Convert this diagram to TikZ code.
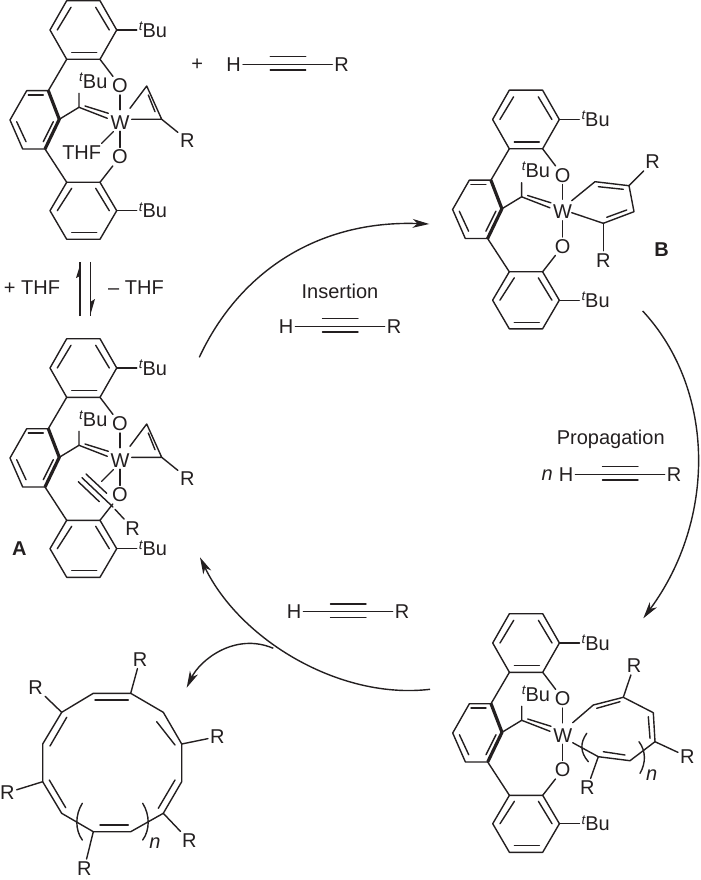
\documentclass[tikz,border=0pt]{standalone}
\usepackage{fontspec}
\setmainfont{Liberation Sans}
\usetikzlibrary{arrows.meta}
\definecolor{ink}{HTML}{231F20}
\newcommand{\tbutyl}{\raisebox{5pt}{\fontsize{10}{10}\selectfont\itshape t}Bu}
\tikzset{
  bond/.style={draw=ink,line width=1.05pt,line cap=round,line join=round},
  bold bond/.style={draw=ink,line width=2.4pt,line cap=butt,line join=round},
  thin arc/.style={draw=ink,line width=1.05pt,-{Stealth[length=12.5pt,width=6.6pt,inset=3.6pt]}},
  atom/.style={text=ink,font=\fontsize{15}{15}\selectfont,inner sep=1.4pt,text height=10.7pt,text depth=0pt,anchor=center},
  caption/.style={text=ink,font=\fontsize{15}{15}\selectfont,inner sep=0pt,anchor=center},
  tag/.style={text=ink,font=\fontsize{15}{15}\selectfont\bfseries,inner sep=0pt,anchor=center},
  mult/.style={text=ink,font=\fontsize{15}{15}\selectfont\itshape,inner sep=0pt,anchor=center},
}
% the biphenolate-alkylidene ligand around W; #1 = name prefix, (#2,#3) = W position
\newcommand{\ligand}[3]{%
\begin{scope}[shift={(#2,#3)}]
  \node[atom] (#1W) at (0,0) {W};
  \node[atom] (#1Ot) at (0,-36.3) {O};
  \node[atom] (#1Ob) at (0,34.7) {O};
  \node[atom] (#1Bt) at (33,-92) {\tbutyl};
  \node[atom] (#1Bb) at (33,88.7) {\tbutyl};
  \node[atom] (#1Bc) at (-26.7,-41) {\tbutyl};
  \coordinate (#1c) at (-41,-14.7);
  \coordinate (#1m3) at (-60.7,-2.7);
  \coordinate (#1t3) at (-3.3,-92);
  \coordinate (#1t4) at (-20,-62.7);
  \coordinate (#1b2) at (-20,60.3);
  \coordinate (#1b3) at (-3.3,88.7);
  % upper phenyl ring
  \draw[bond] (-53.3,-121.3) -- (-20,-121.3) -- (#1t3) -- (#1t4) -- (-53.3,-62.7) -- (-70,-92) -- cycle;
  \draw[bond] (-62.7,-92) -- (-49,-114.7);
  \draw[bond] (-24.3,-114.7) -- (-10.7,-92);
  \draw[bond] (-48.3,-69.3) -- (-23.3,-69.3);
  % lower phenyl ring
  \draw[bond] (-53.3,60.3) -- (#1b2) -- (#1b3) -- (-20,117.3) -- (-53.3,117.3) -- (-70,88.7) -- cycle;
  \draw[bond] (-48.3,66.3) -- (-62.7,88.7);
  \draw[bond] (-24.3,66.3) -- (-10.7,88.7);
  \draw[bond] (-48.3,110.7) -- (-23.3,110.7);
  % central ring
  \draw[bond] (-71.7,-31.3) -- (-93.3,-31.3) -- (-110,-2) -- (-97.3,27) -- (-75,27);
  \draw[bond] (-91.7,-27) -- (-76.7,-27);
  \draw[bond] (-103.3,-0.3) -- (-94,19.7);
  \draw[bond] (-66.7,-0.3) -- (-76.7,19.7);
  \draw[bold bond] (-71.7,-31.3) -- (#1m3) -- (-75,27);
  \draw[bond] (-53.3,-62.7) -- (-71.7,-31.3);
  \draw[bond] (-75,27) -- (-53.3,60.3);
  % connections to the hetero atoms
  \draw[bond] (#1t3) -- (#1Bt);
  \draw[bond] (#1b3) -- (#1Bb);
  \draw[bond] (#1t4) -- (#1Ot);
  \draw[bond] (#1b2) -- (#1Ob);
  \draw[bond,shorten >=2.2pt] (#1Ot) -- (#1W);
  \draw[bond] (#1W) -- (#1Ob);
  % alkylidene
  \draw[bond] (#1m3) -- (#1c) -- (-41,-28.7);
  \draw[bond] (#1c) -- (-12.7,-3.7);
  \draw[bond] (-35,-16) -- (-11.7,-8.7);
\end{scope}}
% the metallacyclobutadiene
\newcommand{\wcb}[3]{%
\begin{scope}[shift={(#2,#3)}]
  \node[atom] (#1Rc) at (67.3,18) {R};
  \coordinate (#1q) at (41.7,-2.7);
  \draw[bond] (10,-13.7) -- (26.7,-36) -- (#1q) -- (11.7,-2.7);
  \draw[bond] (28.3,-27) -- (35,-10.3);
  \draw[bond] (#1q) -- (#1Rc);
  \coordinate (#1s0) at (-6.7,9.7);
  \coordinate (#1s1) at (-18.3,21.3);
  \draw[bond] (#1s0) -- (#1s1);
\end{scope}}
% H-C#C-R; #1 = name prefix, (#2,#3) = left end of the line at the H
\newcommand{\alkyne}[3]{%
\begin{scope}[shift={(#2,#3)}]
  \node[atom] (#1H) at (0,1) {H};
  \node[atom] (#1R) at (108,1) {R};
  \draw[bond] (#1H) -- (#1R);
  \draw[bond] (36.5,-6.6) -- (72,-6.6);
  \draw[bond] (36.5,6.7) -- (72,6.7);
\end{scope}}
\begin{document}
\begin{tikzpicture}[x=0.75pt,y=-0.75pt]
\useasboundingbox (0,0) rectangle (700,880);
%
% top complex
\ligand{p}{120}{122}
\wcb{p}{120}{122}
\node[atom] (pT) at (81.7,152.7) {THF};
\node[caption] (plus) at (197.3,65) {+};
\alkyne{u}{233.7}{63.3}
%
% equilibrium
\coordinate (e1a) at (80,316);
\coordinate (e1b) at (80,262);
\coordinate (e2a) at (90.3,262);
\coordinate (e2b) at (90.3,316);
\draw[bond,line cap=butt] (e1a) -- (e1b);
\draw[bond,line cap=butt] (e2a) -- (e2b);
\fill[ink] (81,262) -- (76,278) -- (80.2,276) -- cycle;
\fill[ink] (90,316) -- (95,299) -- (90.2,302) -- cycle;
\node[caption] (pl) at (32,288) {+ THF};
\node[caption] (mi) at (136,288) {– THF};
%
% complex A
\ligand{a}{120}{460}
\wcb{a}{120}{460}
\node[atom] (aR) at (132.7,528.3) {R};
\draw[bond] (86,474) -- (106.7,493.3);
\draw[bond] (82,477.7) -- (113,507);
\draw[bond] (78.3,481.7) -- (99.3,501.7);
\draw[bond] (115,509.3) -- (aR);
\node[tag] (atag) at (19.3,548.3) {A};
%
% complex B
\ligand{b}{562.6}{211.5}
\node[atom] (bR1) at (652.7,161.7) {R};
\node[atom] (bR2) at (603.3,260) {R};
\draw[bond] (571.7,200.7) -- (595,181.7) -- (629,185.7) -- (634,211.7) -- (603.3,223.3) -- (571.7,212.7);
\draw[bond] (598.3,186.7) -- (623.3,189.3);
\draw[bond] (626.7,210) -- (606.7,217.3);
\draw[bond] (629,185.7) -- (bR1);
\draw[bond] (603.3,223.3) -- (bR2);
\node[tag] (btag) at (661.7,250) {B};
%
% propagating complex
\ligand{c}{562.7}{735}
\node[atom] (cR1) at (634,665.7) {R};
\node[atom] (cR2) at (687.3,756.7) {R};
\node[atom] (cR3) at (587.3,787.7) {R};
\draw[bond] (572.7,722.7) -- (593.3,705) -- (623.3,697.3) -- (653.3,712.7) -- (655,741.7) -- (630,760.7) -- (598.3,756.7) -- (572.7,742.7);
\draw[bond] (596.7,708.3) -- (620,701.7);
\draw[bond] (648.3,716.7) -- (650,738.3);
\draw[bond] (625,755) -- (603.3,751.7);
\draw[bond] (623.3,697.3) -- (cR1);
\draw[bond] (655,741.7) -- (cR2);
\draw[bond] (598.3,756.7) -- (cR3);
\draw[bond] (586.7,733.3) .. controls (580,743) and (580,752) .. (588.3,761.7);
\draw[bond] (639,741.7) .. controls (646,751) and (646,763) .. (640,773.3);
\node[mult] (cn) at (651.7,775) {n};
%
% cyclic product
\node[atom] (r1) at (140,659.3) {R};
\node[atom] (r2) at (35.7,687.3) {R};
\node[atom] (r3) at (217.3,736.7) {R};
\node[atom] (r4) at (189.3,840.7) {R};
\node[atom] (r5) at (84.3,868.3) {R};
\node[atom] (r6) at (7.3,792.7) {R};
\coordinate (v1) at (93.3,693.3);
\coordinate (v2) at (130.7,693.3);
\coordinate (v3) at (163.3,712.3);
\coordinate (v4) at (181.7,744);
\coordinate (v5) at (181.7,781.7);
\coordinate (v6) at (163.3,813.3);
\coordinate (v7) at (130.7,831.7);
\coordinate (v8) at (93.3,831.7);
\coordinate (v9) at (61.7,813.3);
\coordinate (v10) at (42.7,781.7);
\coordinate (v11) at (42.7,744);
\coordinate (v12) at (61.7,712.3);
\draw[bond] (v1) -- (v2) -- (v3) -- (v4) -- (v5) -- (v6) -- (v7) -- (v8) -- (v9) -- (v10) -- (v11) -- (v12) -- cycle;
\draw[bond] (95,700) -- (128.3,700);
\draw[bond] (156.7,721.7) -- (175,745);
\draw[bond] (175,780) -- (158.3,808.3);
\draw[bond] (128.3,825) -- (100,825);
\draw[bond] (65.7,807.7) -- (49.3,780);
\draw[bond] (50,746) -- (66.7,717.3);
\draw[bond] (v2) -- (r1);
\draw[bond] (v12) -- (r2);
\draw[bond] (v4) -- (r3);
\draw[bond] (v6) -- (r4);
\draw[bond] (v8) -- (r5);
\draw[bond] (v10) -- (r6);
\draw[bond] (82.3,803.3) .. controls (75,815) and (75,830) .. (82.3,840);
\draw[bond] (142.7,803.3) .. controls (150,815) and (150,830) .. (142.7,840);
\node[mult] (rn) at (155,843.3) {n};
%
% catalytic cycle
\coordinate (i0) at (199.3,357.3);
\coordinate (i1) at (429.3,224);
\draw[thin arc] (i0) .. controls (240,270) and (320,220) .. (i1);
\node[caption] (ins) at (340,291) {Insertion};
\alkyne{i}{286}{325.3}
\coordinate (p0) at (642.7,311);
\coordinate (p1) at (643.3,618.3);
\draw[thin arc] (p0) .. controls (716,390) and (716,520) .. (p1);
\node[caption] (prop) at (610.7,439) {Propagation};
\node[mult] (pn) at (547.3,475) {n};
\alkyne{g}{566}{473.3}
\coordinate (q0) at (430,689.3);
\coordinate (q1) at (200,557.3);
\draw[thin arc] (q0) .. controls (340,700) and (240,640) .. (q1);
\alkyne{l}{294}{610.7}
\coordinate (s0) at (273.3,648.3);
\coordinate (s1) at (186.7,687.7);
\draw[thin arc] (s0) .. controls (235,632) and (200,660) .. (s1);
\end{tikzpicture}
\end{document}
